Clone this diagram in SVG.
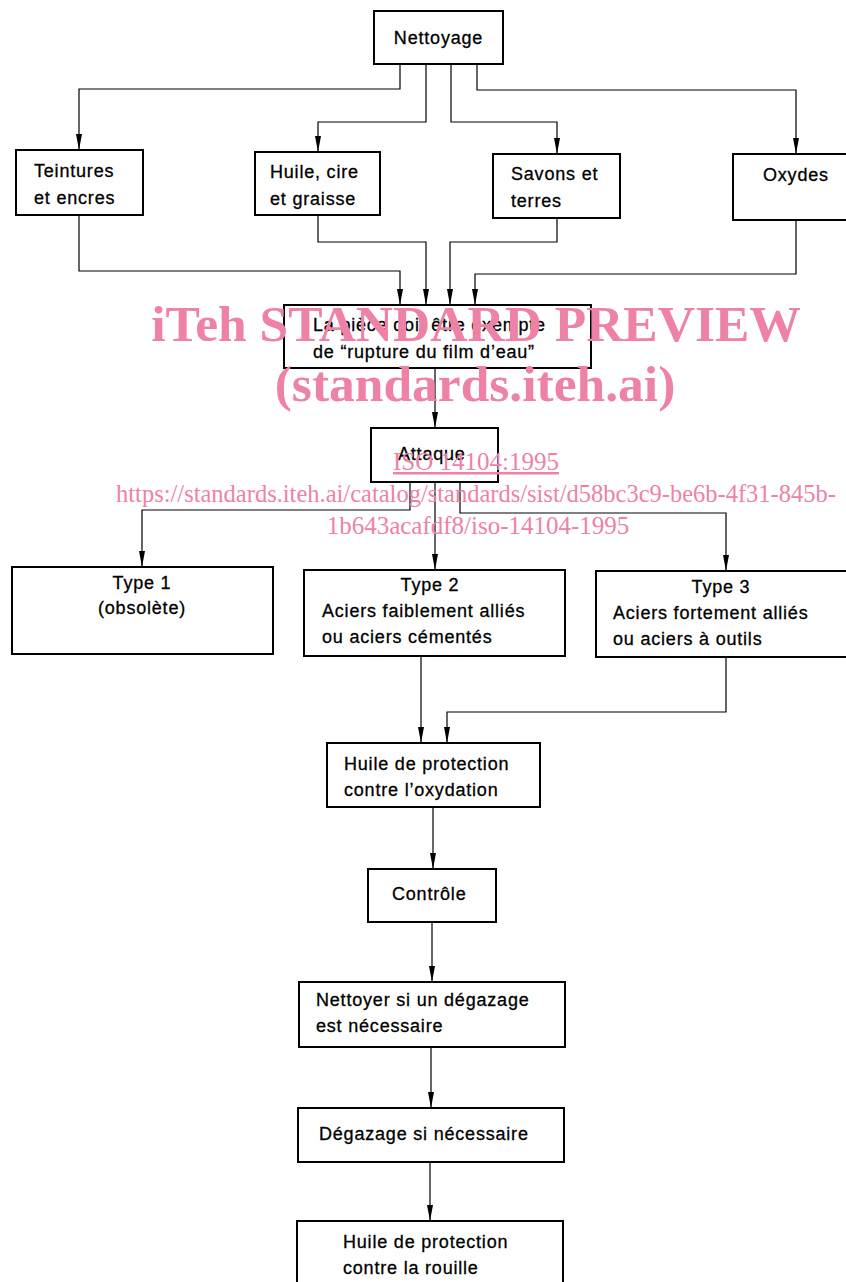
<svg xmlns="http://www.w3.org/2000/svg" width="846" height="1282" viewBox="0 0 846 1282">
<style>
.box{fill:#fff;stroke:#000;stroke-width:2}
.t{font-family:"Liberation Sans",Arial,sans-serif;font-size:18px;fill:#000;stroke:#000;stroke-width:0.3;letter-spacing:0.8px}
.c{text-anchor:middle}
.ln{fill:none;stroke:#000;stroke-width:1.2}
.wm{font-family:"Liberation Serif","Times New Roman",serif;fill:#ee82a6;text-anchor:middle}
</style>
<defs>
<marker id="a" viewBox="0 0 16 6" refX="16" refY="3" markerWidth="16" markerHeight="6" markerUnits="userSpaceOnUse" orient="auto">
<path d="M0,0 L16,3 L0,6 Z" fill="#000"/>
</marker>
</defs>
<rect width="846" height="1282" fill="#fff"/>
<g id="connectors">
<path class="ln" marker-end="url(#a)" d="M400,64 V89 H79 V150"/>
<path class="ln" marker-end="url(#a)" d="M426,64 V122 H318 V152"/>
<path class="ln" marker-end="url(#a)" d="M451,64 V122 H557 V154"/>
<path class="ln" marker-end="url(#a)" d="M477,64 V90 H796 V154"/>
<path class="ln" marker-end="url(#a)" d="M79,215 V271 H400 V305"/>
<path class="ln" marker-end="url(#a)" d="M318,215 V242 H426 V305"/>
<path class="ln" marker-end="url(#a)" d="M557,218 V242 H450 V305"/>
<path class="ln" marker-end="url(#a)" d="M796,220 V274 H475 V305"/>
<path class="ln" marker-end="url(#a)" d="M435,368 V428"/>
<path class="ln" marker-end="url(#a)" d="M410,482 V510 H142 V567"/>
<path class="ln" marker-end="url(#a)" d="M435,482 V570"/>
<path class="ln" marker-end="url(#a)" d="M460,482 V513 H726 V571"/>
<path class="ln" marker-end="url(#a)" d="M421,656 V743"/>
<path class="ln" marker-end="url(#a)" d="M726,657 V712 H447 V743"/>
<path class="ln" marker-end="url(#a)" d="M433,807 V869"/>
<path class="ln" marker-end="url(#a)" d="M432,922 V982"/>
<path class="ln" marker-end="url(#a)" d="M431,1047 V1108"/>
<path class="ln" marker-end="url(#a)" d="M430,1162 V1221"/>
</g>
<g id="nettoyage"><rect class="box" x="374" y="11" width="129" height="53"/><text class="t c" x="438.5" y="44">Nettoyage</text></g>
<g id="teintures"><rect class="box" x="16" y="150" width="127" height="65"/><text class="t" x="34" y="177">Teintures</text><text class="t" x="34" y="204">et encres</text></g>
<g id="huile"><rect class="box" x="255" y="152" width="125" height="63"/><text class="t" x="270" y="178">Huile, cire</text><text class="t" x="270" y="205">et graisse</text></g>
<g id="savons"><rect class="box" x="493" y="154" width="127" height="64"/><text class="t" x="511" y="180">Savons et</text><text class="t" x="511" y="207">terres</text></g>
<g id="oxydes"><rect class="box" x="733" y="154" width="120" height="66"/><text class="t" x="763" y="181">Oxydes</text></g>
<g id="piece"><rect class="box" x="284" y="305" width="307" height="63"/><text class="t" x="313" y="331">La pièce doit être exempte</text><text class="t" x="313" y="358">de “rupture du film d’eau”</text></g>
<g id="attaque"><rect class="box" x="371" y="428" width="127" height="54"/><text class="t" x="398" y="460">Attaque</text></g>
<g id="type1"><rect class="box" x="12" y="567" width="261" height="87"/><text class="t c" x="142" y="589">Type 1</text><text class="t c" x="142" y="614">(obsolète)</text></g>
<g id="type2"><rect class="box" x="304" y="570" width="261" height="86"/><text class="t c" x="430" y="591">Type 2</text><text class="t" x="322" y="617">Aciers faiblement alliés</text><text class="t" x="322" y="643">ou aciers cémentés</text></g>
<g id="type3"><rect class="box" x="596" y="571" width="260" height="86"/><text class="t c" x="721" y="593">Type 3</text><text class="t" x="613" y="619">Aciers fortement alliés</text><text class="t" x="613" y="645">ou aciers à outils</text></g>
<g id="huile-oxydation"><rect class="box" x="327" y="743" width="213" height="64"/><text class="t" x="344" y="770">Huile de protection</text><text class="t" x="344" y="796">contre l’oxydation</text></g>
<g id="controle"><rect class="box" x="368" y="869" width="128" height="53"/><text class="t" x="392" y="900">Contrôle</text></g>
<g id="nettoyer"><rect class="box" x="299" y="982" width="266" height="65"/><text class="t" x="316" y="1006">Nettoyer si un dégazage</text><text class="t" x="316" y="1032">est nécessaire</text></g>
<g id="degazage"><rect class="box" x="298" y="1108" width="266" height="54"/><text class="t" x="319" y="1140">Dégazage si nécessaire</text></g>
<g id="huile-rouille"><rect class="box" x="297" y="1221" width="266" height="70"/><text class="t" x="343" y="1248">Huile de protection</text><text class="t" x="343" y="1274">contre la rouille</text></g>
<g id="watermark">
<text class="wm" x="476" y="341" font-size="51.5" font-weight="bold">iTeh STANDARD PREVIEW</text>
<text class="wm" x="475" y="401" font-size="51.5" font-weight="bold">(standards.iteh.ai)</text>
<text class="wm" x="476" y="470" font-size="25" text-decoration="underline">ISO 14104:1995</text>
<text class="wm" x="476" y="502" font-size="24.5">https://standards.iteh.ai/catalog/standards/sist/d58bc3c9-be6b-4f31-845b-</text>
<text class="wm" x="478" y="534" font-size="25">1b643acafdf8/iso-14104-1995</text>
</g>
</svg>
